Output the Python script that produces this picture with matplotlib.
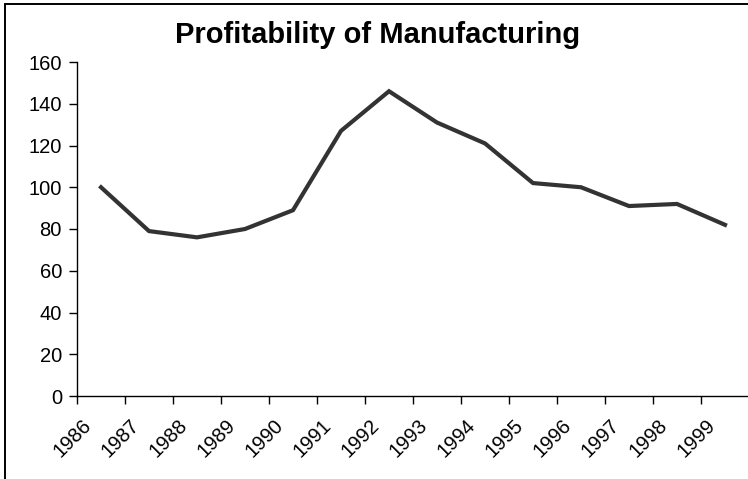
import numpy as np
import matplotlib.pyplot as plt
from matplotlib.patches import Rectangle
from matplotlib.transforms import ScaledTranslation

years = ['1986', '1987', '1988', '1989', '1990', '1991', '1992',
         '1993', '1994', '1995', '1996', '1997', '1998', '1999']
profit = [100, 79, 76, 80, 89, 127, 146, 131, 121, 102, 100, 91, 92, 82]

plt.rcParams['font.family'] = ['Liberation Sans', 'DejaVu Sans']

W, H = 748, 479
fig = plt.figure(figsize=(W / 100, H / 100), dpi=100)

# plot area in pixels: left 77, right 749, top 62, bottom 396
ax = fig.add_axes([77 / W, (H - 396) / H, 672 / W, (396 - 62) / H])

ind = np.arange(len(profit))
ax.plot(ind, profit, color='#333333', lw=3, solid_joinstyle='miter')

ax.set_xlim(-0.5, len(profit) - 0.5)
ax.set_ylim(0, 160)
ax.set_yticks(np.arange(0, 161, 20))
ax.set_yticklabels([str(v) for v in range(0, 161, 20)], fontsize=14.5)

# labels sit in the middle of each category, tick marks on the boundaries
ax.set_xticks(ind)
ax.set_xticklabels(years, rotation=45, ha='right', va='top',
                   rotation_mode='anchor', fontsize=14.5)
ax.set_xticks(np.arange(-0.5, len(profit)), minor=True)
ax.tick_params(axis='x', which='major', length=0, pad=14)
ax.tick_params(axis='x', which='minor', length=6, width=1, direction='out')
ax.tick_params(axis='y', length=6, width=1, direction='out', pad=4.8)

# nudge the slanted year labels to the left
shift = ScaledTranslation(-19 / 100, 0, fig.dpi_scale_trans)
for lbl in ax.get_xticklabels():
    lbl.set_transform(lbl.get_transform() + shift)

for side in ['top', 'right']:
    ax.spines[side].set_visible(False)
for side in ['left', 'bottom']:
    ax.spines[side].set_linewidth(1)

fig.text(378 / W, 1 - 43 / H, 'Profitability of Manufacturing',
         ha='center', va='baseline', fontsize=21, fontweight='bold')

# chart border
fig.patches.append(Rectangle((4.5 / W, -0.1), 1.2, 1 - 3.5 / H + 0.1,
                             transform=fig.transFigure, fill=False,
                             ec='black', lw=1.4))

fig.savefig('out.png', dpi=100)
